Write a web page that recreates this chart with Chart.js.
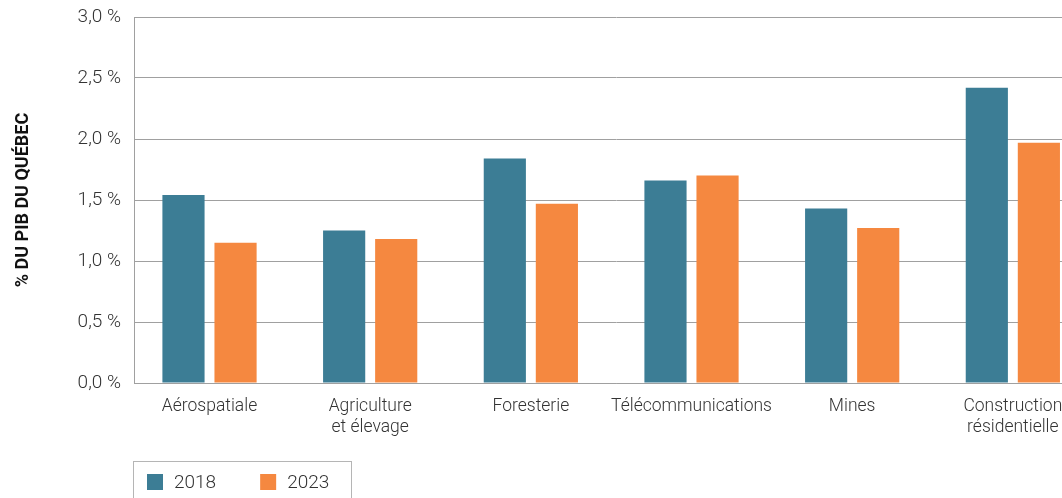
<!DOCTYPE html>
<html>
<head>
<meta charset="utf-8">
<script src="https://cdn.jsdelivr.net/npm/chart.js@4"></script>
<style>
  html, body { margin: 0; padding: 0; overflow: hidden; background: #fff; }
  #wrap { position: relative; width: 1098px; height: 498px; }
</style>
</head>
<body>
<div id="wrap"><canvas id="c"></canvas></div>
<script>
// Part du PIB du Québec par secteur
const categories = [
  ['Aérospatiale'],
  ['Agriculture', 'et élevage'],
  ['Foresterie'],
  ['Télécommunications'],
  ['Mines'],
  ['Construction', 'résidentielle']
];
const seriesLabels = ['2018', '2023'];
const values2018 = [1.54, 1.25, 1.84, 1.66, 1.43, 2.42];
const values2023 = [1.15, 1.18, 1.47, 1.70, 1.27, 1.97];
const yTickValues = [0, 0.5, 1, 1.5, 2, 2.5, 3];
const yTickLabels = ['0,0 %', '0,5 %', '1,0 %', '1,5 %', '2,0 %', '2,5 %', '3,0 %'];
const yTitle = '% DU PIB DU QUÉBEC';

const FONT = "Roboto, 'Liberation Sans', sans-serif";
const COLORS = ['#3c7d95', '#f58840'];
const GRID = '#a0a0a0';
const TEXT = '#333333';

// Boxed legend drawn under the plot, at the lower-left
const boxedLegend = {
  id: 'boxedLegend',
  afterDraw(chart, args, opts) {
    const ctx = chart.ctx;
    ctx.save();
    ctx.strokeStyle = opts.borderColor;
    ctx.lineWidth = 1;
    ctx.strokeRect(opts.x + 0.5, opts.y + 0.5, opts.width, 80);
    ctx.font = '300 19px ' + FONT;
    ctx.textBaseline = 'middle';
    ctx.textAlign = 'left';
    let x = opts.x + opts.inset;
    const cy = opts.y + 21;
    chart.data.datasets.forEach((ds) => {
      ctx.fillStyle = ds.backgroundColor;
      ctx.fillRect(x, cy - 8, 16, 16);
      x += 16 + 11;
      ctx.fillStyle = TEXT;
      ctx.fillText(ds.label, x, cy + 1);
      x += ctx.measureText(ds.label).width + opts.spacing;
    });
    ctx.restore();
  }
};

new Chart(document.getElementById('c'), {
  type: 'bar',
  data: {
    labels: categories,
    datasets: [
      { label: seriesLabels[0], data: values2018, backgroundColor: COLORS[0],
        barPercentage: 0.81, categoryPercentage: 0.648 },
      { label: seriesLabels[1], data: values2023, backgroundColor: COLORS[1],
        barPercentage: 0.81, categoryPercentage: 0.648 }
    ]
  },
  options: {
    responsive: true,
    maintainAspectRatio: false,
    animation: false,
    devicePixelRatio: 1,
    layout: { padding: { top: 17, left: 0, right: 0, bottom: 0 } },
    plugins: {
      legend: { display: false },
      tooltip: { enabled: false },
      boxedLegend: { x: 133, y: 461, width: 218, inset: 14, spacing: 44, borderColor: '#b5b5b5' }
    },
    scales: {
      x: {
        offset: true,
        grid: { display: false, drawTicks: false },
        border: { color: GRID, width: 1 },
        ticks: {
          color: TEXT,
          font: { family: FONT, size: 17.5, weight: '300', lineHeight: 1.2 },
          padding: 13,
          maxRotation: 0,
          autoSkip: false
        },
        afterBuildTicks(scale) {
          // first group sits slightly closer to the vertical axis
          scale._startValue = -0.47;
          scale._valueRange = 6;
        },
        afterFit(scale) {
          scale.height = 115;
          scale.paddingLeft = 0;
          scale.paddingRight = 0;
        }
      },
      y: {
        min: 0,
        max: 3,
        afterBuildTicks(scale) { scale.ticks = yTickValues.map(v => ({ value: v })); },
        grid: { color: GRID, lineWidth: 1, drawTicks: false },
        border: { color: GRID, width: 1 },
        ticks: {
          color: TEXT,
          font: { family: FONT, size: 19, weight: '300' },
          padding: 13,
          callback: (v) => yTickLabels[yTickValues.indexOf(v)]
        },
        title: {
          display: true,
          text: yTitle,
          color: '#111',
          font: { family: FONT, size: 18, weight: 'bold' },
          padding: { top: 13, bottom: 0 }
        },
        afterFit(scale) {
          scale.width = 134;
          scale.paddingTop = 0;
          scale.paddingBottom = 0;
        }
      }
    }
  },
  plugins: [boxedLegend]
});
</script>
</body>
</html>
